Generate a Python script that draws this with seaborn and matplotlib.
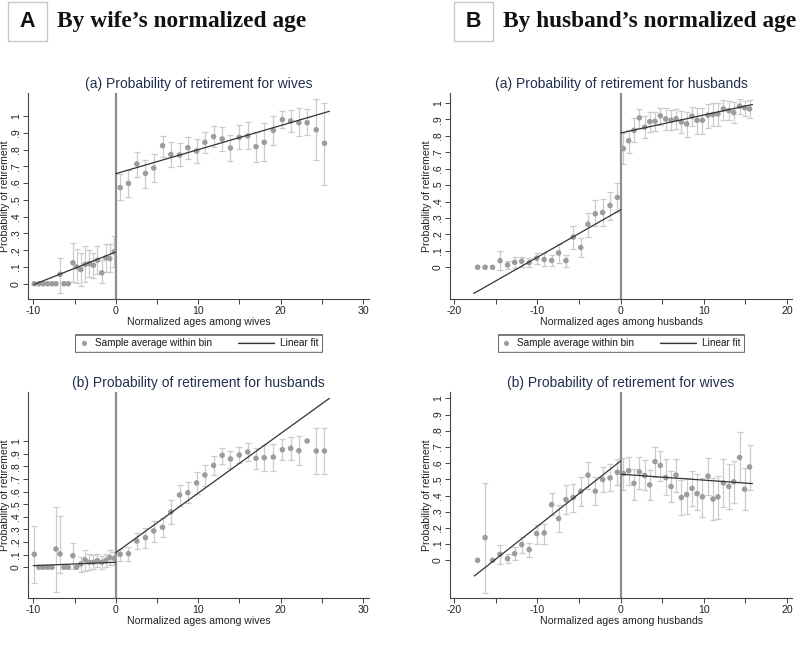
import numpy as np
import matplotlib
matplotlib.use('Agg')
import matplotlib.pyplot as plt
import seaborn as sns
from matplotlib.lines import Line2D
from matplotlib.patches import Rectangle
from matplotlib.legend_handler import HandlerBase
from matplotlib.ticker import FixedLocator, FuncFormatter

# ---- data ----
# bin centres
x_wife_neg = [-9.88, -9.31, -8.79, -8.26, -7.73, -7.25, -6.76, -6.28, -5.76, -5.2,
              -4.74, -4.25, -3.72, -3.24, -2.71, -2.23, -1.7, -1.2, -0.73, -0.2]
x_wife_pos = [0.53, 1.54, 2.55, 3.6, 4.6, 5.67, 6.68, 7.73, 8.74, 9.8, 10.8, 11.86, 12.9,
              13.9, 14.97, 16.0, 17.0, 18.0, 19.1, 20.2, 21.2, 22.2, 23.2, 24.3, 25.3]
x_husb_neg = [-17.2, -16.3, -15.4, -14.5, -13.6, -12.75, -11.9, -11.0, -10.1, -9.2,
              -8.3, -7.46, -6.58, -5.7, -4.8, -3.93, -3.05, -2.17, -1.28, -0.4]
x_husb_pos = [0.32, 0.96, 1.6, 2.25, 2.89, 3.49, 4.13, 4.77, 5.42, 6.06, 6.66, 7.3, 7.94,
              8.58, 9.18, 9.83, 10.5, 11.1, 11.7, 12.35, 13.0, 13.6, 14.3, 14.9, 15.5]

# A(a): wives' retirement by wife's age
aa_y = [0, 0, 0, 0, 0, 0, 0.056, 0, 0, 0.125, 0.10, 0.085, 0.115, 0.12, 0.11, 0.14, 0.065, 0.155, 0.15, 0.19,
        0.573, 0.598, 0.714, 0.658, 0.690, 0.823, 0.771, 0.767, 0.811, 0.791, 0.843, 0.877, 0.863,
        0.809, 0.873, 0.881, 0.817, 0.843, 0.914, 0.978, 0.970, 0.960, 0.960, 0.918, 0.837]
aa_hi = [0, 0, 0, 0, 0, 0, 0.155, 0, 0, 0.24, 0.205, 0.185, 0.225, 0.2, 0.183, 0.225, 0.141, 0.237, 0.237, 0.282,
         0.652, 0.678, 0.787, 0.738, 0.775, 0.883, 0.847, 0.837, 0.877, 0.861, 0.907, 0.938, 0.932,
         0.887, 0.946, 0.962, 0.907, 0.956, 1.0, 1.028, 1.036, 1.046, 1.04, 1.099, 1.08]
aa_lo = [0, 0, 0, 0, 0, 0, -0.054, 0, 0, 0.01, 0.002, -0.014, 0.008, 0.04, 0.032, 0.058, 0.002, 0.072, 0.072, 0.097,
         0.499, 0.515, 0.638, 0.571, 0.606, 0.757, 0.694, 0.700, 0.742, 0.718, 0.777, 0.813, 0.793,
         0.730, 0.801, 0.801, 0.724, 0.730, 0.827, 0.928, 0.905, 0.881, 0.885, 0.738, 0.588]
aa_fit_left = ([-9.9, 0], [-0.004, 0.189])
aa_fit_right = ([0, 25.9], [0.656, 1.028])

# A(b): husbands' retirement by wife's age
ab_y = [0.103, 0, 0, 0, 0, 0.145, 0.106, 0, 0, 0.092, 0, 0.026, 0.058, 0.04, 0.04, 0.053, 0.04, 0.053, 0.077, 0.071,
        0.103, 0.108, 0.208, 0.235, 0.288, 0.317, 0.438, 0.573, 0.591, 0.668, 0.731, 0.807, 0.887,
        0.858, 0.889, 0.913, 0.863, 0.868, 0.873, 0.931, 0.942, 0.923, 1.0, 0.921, 0.921]
ab_hi = [0.327, 0, 0, 0, 0, 0.48, 0.406, 0, 0, 0.195, 0, 0.084, 0.137, 0.105, 0.098, 0.103, 0.09, 0.105, 0.137, 0.124,
         0.142, 0.158, 0.269, 0.309, 0.369, 0.388, 0.533, 0.652, 0.673, 0.752, 0.81, 0.881, 0.947,
         0.923, 0.952, 0.981, 0.942, 0.971, 0.974, 1.013, 1.029, 1.037, 1.0, 1.10, 1.10]
ab_lo = [-0.127, 0, 0, 0, 0, -0.198, -0.047, 0, 0, -0.01, 0, -0.034, -0.026, -0.02, -0.016, 0.0, -0.01, 0.0, 0.018, 0.018,
         0.05, 0.053, 0.142, 0.153, 0.2, 0.240, 0.346, 0.488, 0.507, 0.580, 0.646, 0.728, 0.821,
         0.786, 0.823, 0.844, 0.776, 0.763, 0.765, 0.847, 0.852, 0.810, 1.0, 0.739, 0.739]
ab_fit_left = ([-10, 0], [0.013, 0.04])
ab_fit_right = ([0, 25.9], [0.116, 1.338])

# B(a): husbands' retirement by husband's age
ba_y = [0, 0, 0, 0.04, 0.014, 0.03, 0.037, 0.028, 0.055, 0.047, 0.041, 0.087, 0.041, 0.183, 0.12, 0.262, 0.325, 0.333, 0.376, 0.425,
        0.722, 0.77, 0.833, 0.909, 0.852, 0.886, 0.888, 0.921, 0.902, 0.894, 0.904, 0.884, 0.872,
        0.919, 0.894, 0.894, 0.925, 0.929, 0.933, 0.963, 0.953, 0.941, 0.98, 0.97, 0.963]
ba_hi = [0, 0, 0, 0.096, 0.04, 0.065, 0.065, 0.055, 0.089, 0.085, 0.073, 0.142, 0.073, 0.252, 0.181, 0.329, 0.407, 0.415, 0.457, 0.512,
         0.817, 0.833, 0.909, 0.963, 0.919, 0.945, 0.945, 0.970, 0.970, 0.959, 0.965, 0.953, 0.943,
         0.976, 0.967, 0.967, 0.996, 1.0, 1.0, 1.02, 1.01, 1.004, 1.024, 1.01, 1.016]
ba_lo = [0, 0, 0, -0.016, -0.01, -0.006, 0.004, 0.0, 0.02, 0.008, 0.008, 0.028, 0.004, 0.114, 0.061, 0.187, 0.248, 0.252, 0.289, 0.339,
         0.630, 0.695, 0.762, 0.848, 0.787, 0.823, 0.827, 0.868, 0.833, 0.833, 0.841, 0.815, 0.791,
         0.858, 0.813, 0.813, 0.848, 0.858, 0.858, 0.898, 0.894, 0.878, 0.935, 0.923, 0.909]
ba_fit_left = ([-17.65, 0], [-0.159, 0.35])
ba_fit_right = ([0, 15.85], [0.817, 0.99])

# B(b): wives' retirement by husband's age
bb_y = [0, 0.14, 0, 0.037, 0.01, 0.041, 0.097, 0.066, 0.165, 0.169, 0.344, 0.258, 0.375, 0.388, 0.427, 0.526, 0.427, 0.499, 0.509, 0.544,
        0.536, 0.553, 0.476, 0.546, 0.524, 0.466, 0.61, 0.586, 0.511, 0.456, 0.526, 0.388, 0.406,
        0.445, 0.412, 0.392, 0.52, 0.379, 0.392, 0.478, 0.456, 0.485, 0.635, 0.439, 0.577]
bb_hi = [0, 0.48, 0, 0.093, 0.037, 0.082, 0.144, 0.109, 0.22, 0.227, 0.416, 0.34, 0.464, 0.47, 0.515, 0.608, 0.515, 0.577, 0.598, 0.629,
         0.635, 0.639, 0.567, 0.639, 0.619, 0.557, 0.701, 0.676, 0.623, 0.553, 0.629, 0.495, 0.511,
         0.553, 0.536, 0.511, 0.635, 0.511, 0.52, 0.625, 0.592, 0.612, 0.79, 0.571, 0.715]
bb_lo = [0, -0.2, 0, -0.02, -0.016, 0.0, 0.047, 0.021, 0.103, 0.103, 0.278, 0.175, 0.289, 0.299, 0.334, 0.443, 0.34, 0.423, 0.429, 0.464,
         0.437, 0.464, 0.375, 0.443, 0.433, 0.371, 0.515, 0.491, 0.402, 0.361, 0.423, 0.278, 0.289,
         0.334, 0.313, 0.268, 0.402, 0.247, 0.258, 0.33, 0.32, 0.357, 0.485, 0.309, 0.437]
bb_fit_left = ([-17.6, 0], [-0.097, 0.614])
bb_fit_right = ([0, 15.85], [0.532, 0.474])

y_ticks = [i / 10 for i in range(11)]
y_tick_labels = ['0', '.1', '.2', '.3', '.4', '.5', '.6', '.7', '.8', '.9', '1']

# ---- style ----
sns.set_theme(style='ticks')
plt.rcParams['font.family'] = ['Liberation Sans', 'DejaVu Sans']

TITLE_C = '#22304d'
DOT_C = '#9c9c9c'
BAR_C = '#cbcbcb'
FIT_C = '#333333'

fig = plt.figure(figsize=(8, 6.53), dpi=100)
W, H = 800, 653


def add_ax(left, top, right, bottom):
    return fig.add_axes([left / W, 1 - bottom / H, (right - left) / W, (bottom - top) / H])


class LongLine(HandlerBase):
    # legend line that reaches further left than the (short) handle box
    def create_artists(self, legend, orig_handle, xdescent, ydescent, width, height, fontsize, trans):
        extra = 2.6 * fontsize
        yy = height / 2 - ydescent
        ln = Line2D([-xdescent - extra, -xdescent + width], [yy, yy], color=orig_handle.get_color(),
                    lw=orig_handle.get_linewidth(), transform=trans)
        return [ln]


panels = [
    dict(box=(28, 93, 369, 299), xlim=(-10.64, 30.7), ylim=(-0.091, 1.137), xt=range(-10, 31, 5),
         x=x_wife_neg + x_wife_pos, y=aa_y, lo=aa_lo, hi=aa_hi, fits=[aa_fit_left, aa_fit_right],
         title='(a) Probability of retirement for wives', xlabel='Normalized ages among wives'),
    dict(box=(28, 392, 369, 598), xlim=(-10.64, 30.7), ylim=(-0.243, 1.388), xt=range(-10, 31, 5),
         x=x_wife_neg + x_wife_pos, y=ab_y, lo=ab_lo, hi=ab_hi, fits=[ab_fit_left, ab_fit_right],
         title='(b) Probability of retirement for husbands', xlabel='Normalized ages among wives'),
    dict(box=(450, 93, 792, 299), xlim=(-20.52, 20.6), ylim=(-0.193, 1.06), xt=range(-20, 21, 5),
         x=x_husb_neg + x_husb_pos, y=ba_y, lo=ba_lo, hi=ba_hi, fits=[ba_fit_left, ba_fit_right],
         title='(a) Probability of retirement for husbands', xlabel='Normalized ages among husbands'),
    dict(box=(450, 392, 792, 598), xlim=(-20.52, 20.6), ylim=(-0.233, 1.04), xt=range(-20, 21, 5),
         x=x_husb_neg + x_husb_pos, y=bb_y, lo=bb_lo, hi=bb_hi, fits=[bb_fit_left, bb_fit_right],
         title='(b) Probability of retirement for wives', xlabel='Normalized ages among husbands'),
]

for p in panels:
    ax = add_ax(*p['box'])
    x = np.array(p['x'])
    y = np.array(p['y'])
    lo = np.array(p['lo'])
    hi = np.array(p['hi'])
    has_bar = (hi - lo) > 0.001
    ax.errorbar(x[has_bar], y[has_bar], yerr=[y[has_bar] - lo[has_bar], hi[has_bar] - y[has_bar]],
                fmt='none', ecolor=BAR_C, elinewidth=0.9, capsize=2.3, capthick=0.9, zorder=1)
    ax.axvline(0, color='#8e8e8e', lw=1.6, zorder=2)
    sns.scatterplot(x=x, y=y, color=DOT_C, s=16, edgecolor='none', ax=ax, zorder=3)
    for fx, fy in p['fits']:
        sns.lineplot(x=fx, y=fy, color=FIT_C, lw=0.9, ax=ax, zorder=4)

    ax.set_xlim(*p['xlim'])
    ax.set_ylim(*p['ylim'])
    ax.xaxis.set_major_locator(FixedLocator(list(p['xt'])))
    ax.xaxis.set_major_formatter(FuncFormatter(lambda v, pos: f'{int(round(v))}' if round(v) % 10 == 0 else ''))
    ax.set_yticks(y_ticks)
    ax.set_yticklabels(y_tick_labels)
    ax.tick_params(axis='both', length=3.5, width=0.7, color='#444444', labelsize=7.6,
                   labelcolor='#222222', pad=1.5)
    ax.tick_params(axis='y', labelrotation=90)
    for lab in ax.get_yticklabels():
        lab.set_va('center')
    for s in ['top', 'right']:
        ax.spines[s].set_visible(False)
    for s in ['left', 'bottom']:
        ax.spines[s].set_color('#444444')
        ax.spines[s].set_linewidth(0.8)
    ax.set_title(p['title'], fontsize=10, color=TITLE_C, pad=3.5)
    ax.set_xlabel(p['xlabel'], fontsize=7.6, color='#222222', labelpad=1)
    ax.set_ylabel('Probability of retirement', fontsize=7.6, color='#222222', labelpad=1)

    dot_h = Line2D([], [], marker='o', ls='none', color=DOT_C, markersize=3.6, markeredgewidth=0)
    fit_h = Line2D([], [], color=FIT_C, lw=0.9)
    top, bottom = p['box'][1], p['box'][3]
    anchor_y = (bottom - 343) / (bottom - top)
    leg = ax.legend([dot_h, fit_h], ['Sample average within bin', 'Linear fit'], loc='center',
                    bbox_to_anchor=(0.5, anchor_y), ncol=2, fontsize=7.2, frameon=True,
                    fancybox=False, edgecolor='#555555', handlelength=1.0, columnspacing=5.2,
                    handletextpad=0.6, borderpad=0.35, borderaxespad=0,
                    handler_map={fit_h: LongLine()})
    leg.get_frame().set_linewidth(0.7)

# header labels
for bx, letter, text in [(8, 'A', 'By wife\u2019s normalized age'), (454, 'B', 'By husband\u2019s normalized age')]:
    fig.patches.append(Rectangle((bx / W, 1 - 41 / H), 39 / W, 39 / H, transform=fig.transFigure,
                                 facecolor='white', edgecolor='#c8c8c8', lw=1.0))
    fig.text((bx + 19.5) / W, 1 - 21.5 / H, letter, ha='center', va='center', fontsize=15.5,
             fontweight='bold', color='#111111', family=['Liberation Sans', 'DejaVu Sans'])
    fig.text((bx + 49) / W, 1 - 21.5 / H, text, ha='left', va='center', fontsize=16.8,
             fontweight='bold', color='#111111', family=['Liberation Serif', 'DejaVu Serif'])

fig.savefig('out.png', dpi=100)
